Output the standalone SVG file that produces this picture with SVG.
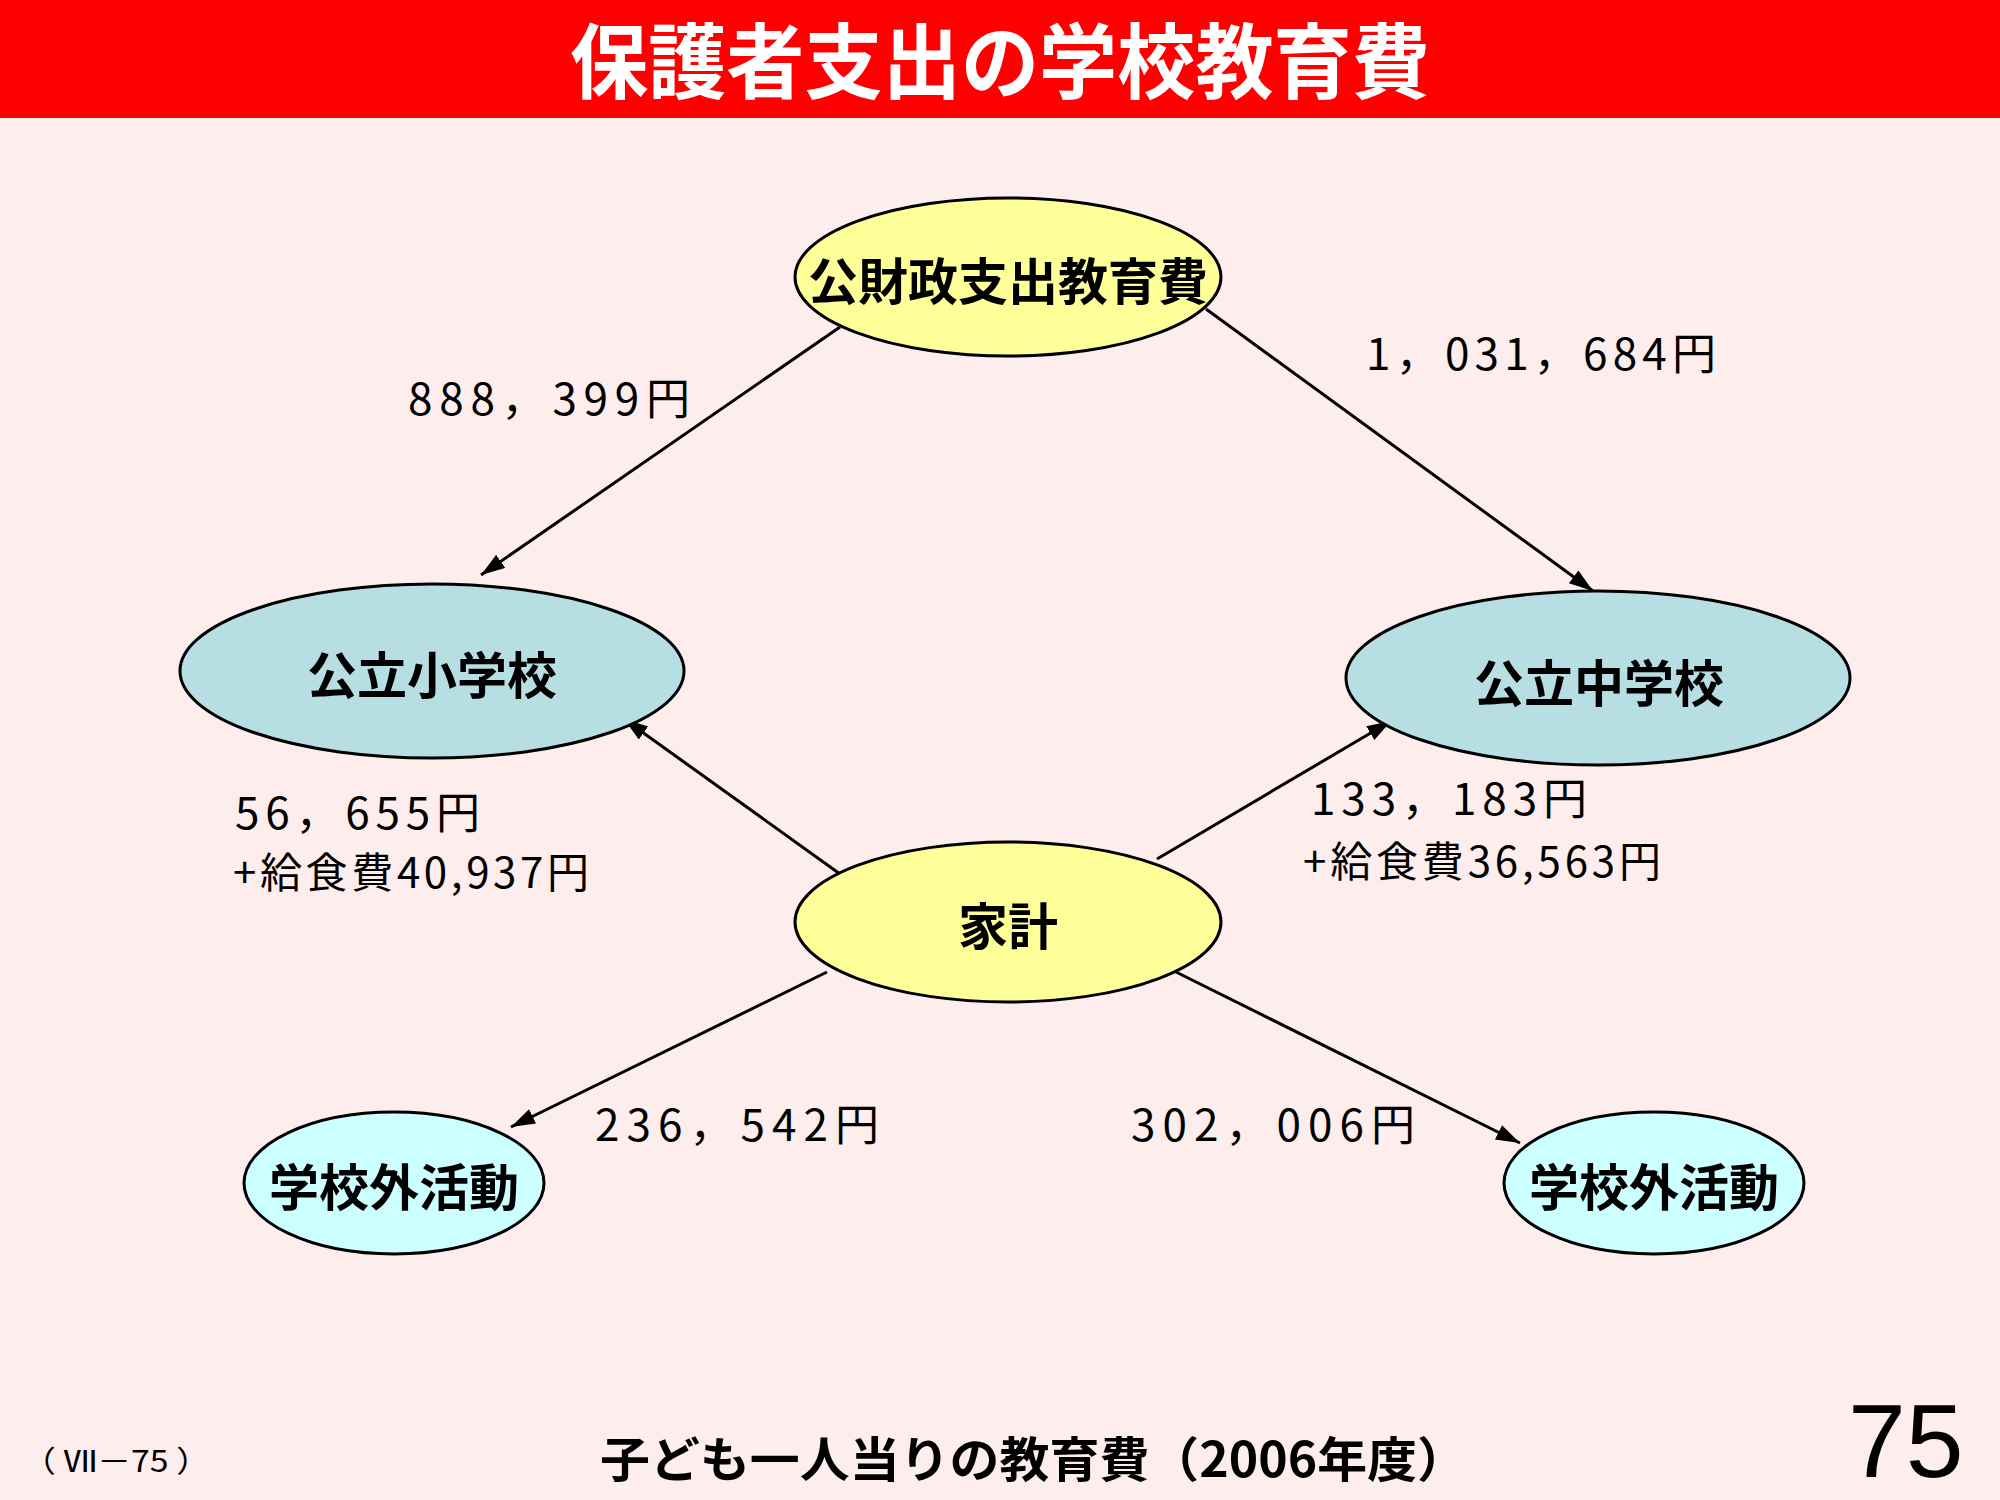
<svg xmlns="http://www.w3.org/2000/svg" width="2000" height="1500" viewBox="0 0 2000 1500">
<defs>
<style>
.node-y{fill:#FFFF99;stroke:#000;stroke-width:3}
.node-b{fill:#B7DEE3;stroke:#000;stroke-width:3}
.node-c{fill:#CCFFFF;stroke:#000;stroke-width:3}
.nt{font-family:"Noto Sans CJK JP","Noto Sans CJK SC",sans-serif;font-weight:bold;font-size:50px;fill:#000;text-anchor:middle}
.lbl{font-family:"Noto Sans CJK JP","Noto Sans CJK SC",sans-serif;font-size:44px;fill:#000}
.lbl2{font-family:"Noto Sans CJK JP","Noto Sans CJK SC",sans-serif;font-size:42px;fill:#000}
.edge{stroke:#000;stroke-width:3;fill:none;marker-end:url(#ah)}
</style>
<marker id="ah" markerUnits="userSpaceOnUse" markerWidth="26" markerHeight="18" refX="24" refY="8" orient="auto">
<path d="M0,0 L24,8 L0,16 z" fill="#000"/>
</marker>
</defs>
<rect x="0" y="0" width="2000" height="1500" fill="#FDEDED"/>
<rect x="0" y="0" width="2000" height="118" fill="#FF0000"/>
<text x="1000" y="92" font-family="Noto Sans CJK JP, Noto Sans CJK SC, sans-serif" font-weight="bold" font-size="82" fill="#FFFFFF" text-anchor="middle" textLength="860" lengthAdjust="spacingAndGlyphs">保護者支出の学校教育費</text>

<g id="connectors">
<line class="edge" x1="840" y1="327" x2="481" y2="575"/>
<line class="edge" x1="1206" y1="309" x2="1593" y2="591"/>
<line class="edge" x1="840" y1="874" x2="624" y2="719"/>
<line class="edge" x1="1157" y1="859" x2="1391" y2="721"/>
<line class="edge" x1="827" y1="972" x2="511" y2="1127"/>
<line class="edge" x1="1176" y1="972" x2="1520" y2="1143"/>
</g>

<g id="node-public">
<ellipse class="node-y" cx="1008" cy="277" rx="213" ry="79"/>
<text class="nt" x="1008" y="300">公財政支出教育費</text>
</g>
<g id="node-elementary">
<ellipse class="node-b" cx="432" cy="671" rx="252" ry="87"/>
<text class="nt" x="432" y="694">公立小学校</text>
</g>
<g id="node-junior">
<ellipse class="node-b" cx="1598" cy="678" rx="252" ry="87"/>
<text class="nt" x="1599" y="702">公立中学校</text>
</g>
<g id="node-household">
<ellipse class="node-y" cx="1008" cy="922" rx="213" ry="80"/>
<text class="nt" x="1008" y="945">家計</text>
</g>
<g id="node-outside-left">
<ellipse class="node-c" cx="394" cy="1183" rx="150" ry="71"/>
<text class="nt" x="394" y="1206">学校外活動</text>
</g>
<g id="node-outside-right">
<ellipse class="node-c" cx="1654" cy="1183" rx="150" ry="71"/>
<text class="nt" x="1654" y="1206">学校外活動</text>
</g>

<g id="labels">
<text class="lbl" x="408" y="415" textLength="282" lengthAdjust="spacing">888，399円</text>
<text class="lbl" x="1366" y="370" textLength="350" lengthAdjust="spacing">1，031，684円</text>
<text class="lbl" x="235" y="829" textLength="245" lengthAdjust="spacing">56，655円</text>
<text class="lbl2" x="233" y="888" textLength="356" lengthAdjust="spacing">+給食費40,937円</text>
<text class="lbl" x="1311" y="815" textLength="276" lengthAdjust="spacing">133，183円</text>
<text class="lbl2" x="1303" y="877" textLength="358" lengthAdjust="spacing">+給食費36,563円</text>
<text class="lbl" x="595" y="1141" textLength="284" lengthAdjust="spacing">236，542円</text>
<text class="lbl" x="1131" y="1141" textLength="284" lengthAdjust="spacing">302，006円</text>
</g>

<text x="22" y="1472" font-family="Noto Sans CJK JP, Noto Sans CJK SC, sans-serif" font-size="30" fill="#000" textLength="188" lengthAdjust="spacingAndGlyphs">（ Ⅶ－75 ）</text>
<text x="600" y="1477" font-family="Noto Sans CJK JP, Noto Sans CJK SC, sans-serif" font-weight="bold" font-size="48" fill="#000" textLength="867" lengthAdjust="spacingAndGlyphs">子ども一人当りの教育費（2006年度）</text>
<text x="1848" y="1477" font-family="Liberation Sans, Arial, sans-serif" font-size="104" fill="#000">75</text>
</svg>
